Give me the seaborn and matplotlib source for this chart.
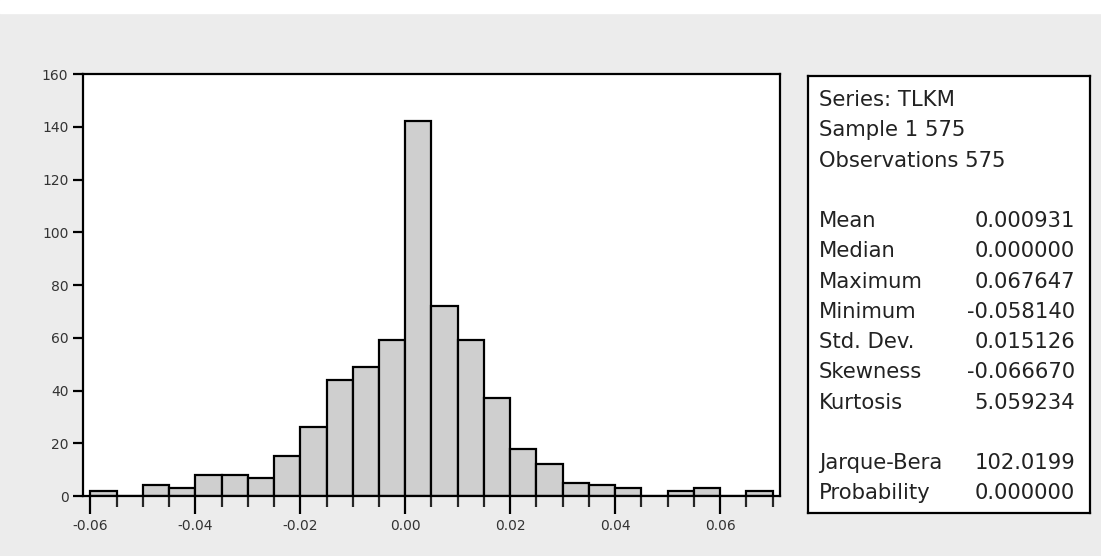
import numpy as np
import pandas as pd
import matplotlib
matplotlib.use("Agg")
import matplotlib.pyplot as plt
from matplotlib.patches import Rectangle
import seaborn as sns

# histogram data (bin width 0.005, first bin starts at -0.06)
bin_start = -0.06
bin_width = 0.005
counts = [2, 0, 4, 3, 8, 8, 7, 15, 26, 44, 49, 59, 142, 72, 59, 37, 18, 12, 5, 4, 3, 0, 2, 3, 0, 2]

# stats box text
header_lines = ["Series: TLKM", "Sample 1 575", "Observations 575"]
stat_names = ["Mean", "Median", "Maximum", "Minimum", "Std. Dev.", "Skewness", "Kurtosis"]
stat_values = ["0.000931", "0.000000", "0.067647", "-0.058140", "0.015126", "-0.066670", "5.059234"]
test_names = ["Jarque-Bera", "Probability"]
test_values = ["102.0199", "0.000000"]

xticks = [-0.06, -0.04, -0.02, 0.00, 0.02, 0.04, 0.06]
xtick_labels = ["-0.06", "-0.04", "-0.02", "0.00", "0.02", "0.04", "0.06"]
yticks = [0, 20, 40, 60, 80, 100, 120, 140, 160]

edges = bin_start + bin_width * np.arange(len(counts) + 1)
df = pd.DataFrame({"x": edges[:-1] + bin_width / 2, "n": counts})

sns.set_style("white")
plt.rcParams['font.family'] = ['DejaVu Sans']

fig = plt.figure(figsize=(11.01, 5.56), dpi=100, facecolor="#ececec")
# white strip along the top of the page scan
fig.add_artist(Rectangle((0, 1 - 13 / 556), 1, 13 / 556, transform=fig.transFigure,
                         color="white", zorder=0))

# ----------------- histogram -----------------
ax = fig.add_axes([0.0754, 0.1079, 0.6330, 0.7590])
sns.histplot(data=df, x="x", weights="n", binwidth=bin_width,
             binrange=(edges[0], edges[-1]), ax=ax,
             color="#cfcfcf", edgecolor="black", linewidth=1.6, alpha=1)
ax.set_xlim(-0.0614, 0.0714)
ax.set_ylim(0, 160)
ax.set_xticks(xticks)
ax.set_xticklabels(xtick_labels)
ax.set_xticks(edges, minor=True)
ax.set_yticks(yticks)
ax.set_xlabel("")
ax.set_ylabel("")
ax.set_facecolor("white")
for s in ax.spines.values():
    s.set_color("black")
    s.set_linewidth(1.6)
ax.tick_params(axis="x", which="major", direction="out", length=13, width=1.6,
               labelsize=10, colors="black", labelcolor="#333333", bottom=True, pad=3.5)
ax.tick_params(axis="x", which="minor", direction="out", length=8, width=1.6, bottom=True)
ax.tick_params(axis="y", which="major", direction="out", length=7, width=1.6,
               labelsize=10, colors="black", labelcolor="#333333", left=True, pad=3.5)

# ----------------- stats box -----------------
box = fig.add_axes([0.7339, 0.0773, 0.2561, 0.7860])
box.set_xlim(0, 1)
box.set_ylim(0, 1)
box.set_xticks([])
box.set_yticks([])
box.set_facecolor("white")
for s in box.spines.values():
    s.set_color("black")
    s.set_linewidth(1.6)

fs = 15.2
step = 0.0692
y = 0.931
for line in header_lines:
    box.text(0.039, y, line, fontsize=fs, va="baseline", ha="left", color="#222222")
    y -= step
y -= step
for name, val in zip(stat_names, stat_values):
    box.text(0.039, y, name, fontsize=fs, va="baseline", ha="left", color="#222222")
    box.text(0.947, y, val, fontsize=fs, va="baseline", ha="right", color="#222222")
    y -= step
y -= step
for name, val in zip(test_names, test_values):
    box.text(0.039, y, name, fontsize=fs, va="baseline", ha="left", color="#222222")
    box.text(0.947, y, val, fontsize=fs, va="baseline", ha="right", color="#222222")
    y -= step

fig.savefig("out.png", dpi=100, facecolor=fig.get_facecolor())
